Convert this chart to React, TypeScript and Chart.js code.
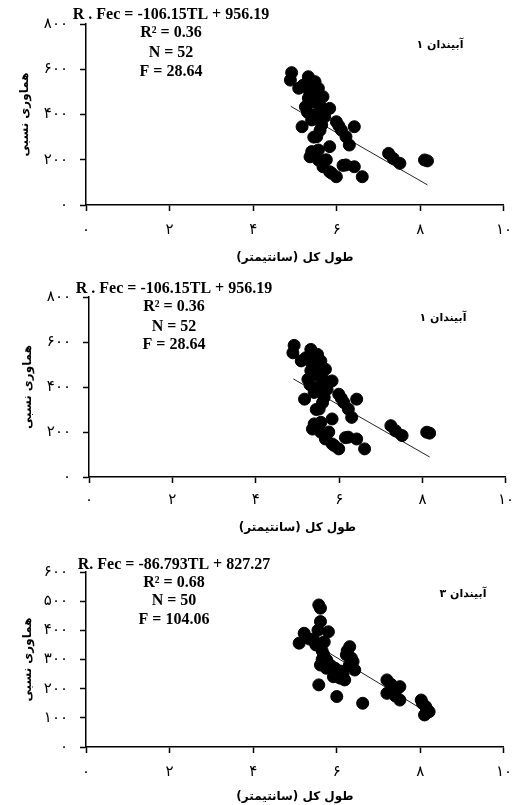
import React, { useEffect, useRef } from "react";
import { Chart, registerables } from "chart.js";

Chart.register(...registerables);

// ---------- data ----------
const xTickValues = [0, 2, 4, 6, 8, 10];
const yTickValues1 = [0, 200, 400, 600, 800];
const yTickValues3 = [0, 100, 200, 300, 400, 500, 600];

// Panel 1 & 2 (same data): total length (cm) vs relative fecundity
const tl1 = [
  4.92, 4.89, 5.09, 5.32, 5.48, 5.56, 5.40, 5.32, 5.25, 5.52,
  5.67, 5.83, 5.60, 5.70, 5.45, 5.17, 5.40, 5.52, 5.64, 5.71,
  5.99, 6.11, 6.42, 6.22, 6.30, 5.83, 5.40, 5.36, 5.56, 5.67,
  5.83, 5.99, 6.22, 6.42, 6.61, 5.56, 7.24, 7.35, 7.51, 8.10,
  8.17, 5.30, 5.50, 5.60, 5.45, 6.05, 5.75, 5.48, 6.15, 5.88,
  5.35, 5.20,
];
const fec1 = [
  585, 552, 516, 567, 545, 516, 540, 472, 434, 472,
  479, 427, 440, 420, 455, 346, 376, 302, 354, 390,
  368, 331, 346, 302, 265, 258, 236, 213, 199, 169,
  147, 125, 177, 169, 125, 243, 228, 206, 184, 199,
  195, 410, 400, 330, 300, 350, 200, 222, 175, 140,
  500, 530,
];

// Panel 3
const tl3 = [
  5.57, 5.61, 5.61, 5.22, 5.10, 5.80, 5.45, 5.61, 5.69, 5.61,
  5.76, 6.31, 6.23, 6.39, 6.43, 5.96, 6.08, 6.19, 5.92, 5.57,
  6.00, 6.62, 7.20, 7.20, 7.51, 7.51, 7.45, 8.02, 8.13, 8.21,
  8.10, 8.05, 5.35, 5.65, 5.70, 5.55, 6.25, 6.35, 6.10, 6.30,
  5.85, 5.75, 6.00, 7.35, 7.40, 8.15, 5.65, 6.15, 5.50, 7.30,
];
const fec3 = [
  487, 476, 430, 390, 356, 395, 367, 344, 316, 281,
  298, 344, 316, 293, 264, 270, 236, 230, 241, 213,
  173, 150, 230, 184, 207, 161, 200, 161, 138, 121,
  110, 150, 370, 330, 360, 400, 330, 305, 260, 280,
  280, 270, 255, 195, 175, 130, 300, 250, 350, 215,
];

// Regression fits printed on the charts
const slope1 = -106.15;
const intercept1 = 956.19;
const trendRange1 = [4.9, 8.17];
const stats1 = ["R . Fec = -106.15TL + 956.19", "R² = 0.36", "N = 52", "F = 28.64"];

const slope3 = -86.793;
const intercept3 = 827.27;
const trendRange3 = [5.1, 8.25];
const stats3 = ["R. Fec = -86.793TL + 827.27", "R² = 0.68", "N = 50", "F = 104.06"];

const station1 = "آبیندان ۱";
const station3 = "آبیندان ۳";

const xTitle = "طول کل (سانتیمتر)";
const yTitle = "هماوری نسبی";

// ---------- helpers ----------
const PERSIAN = "۰۱۲۳۴۵۶۷۸۹";
const toPersian = (v: number | string) =>
  String(v).replace(/\d/g, (d) => PERSIAN[Number(d)]);

type PanelProps = {
  top: number;
  height: number;
  area: { left: number; right: number; top: number; bottom: number };
  tl: number[];
  fec: number[];
  slope: number;
  intercept: number;
  trendRange: number[];
  yMax: number;
  yTicks: number[];
  stats: string[];
  statsDx: number;
  statsDy: number[];
  station: string;
  stationDx: number;
  stationDy: number;
  xTickPad: number;
  xTitlePad: number;
  yTitlePad: number;
};

function Panel(p: PanelProps) {
  const ref = useRef<HTMLCanvasElement | null>(null);

  useEffect(() => {
    if (!ref.current) return;
    const points = p.tl.map((x, i) => ({ x, y: p.fec[i] }));
    const trend = p.trendRange.map((x) => ({ x, y: p.slope * x + p.intercept }));

    const annot = {
      id: "annot",
      afterDraw(chart: any) {
        const { ctx, chartArea } = chart;
        ctx.save();
        ctx.fillStyle = "#000";
        ctx.textBaseline = "middle";
        ctx.textAlign = "center";
        ctx.font = 'bold 16px "Liberation Serif"';
        p.stats.forEach((t, i) => {
          ctx.fillText(t, chartArea.left + p.statsDx, chartArea.top + p.statsDy[i]);
        });
        ctx.font = 'bold 11px "DejaVu Sans"';
        ctx.direction = "rtl";
        ctx.textAlign = "center";
        ctx.fillText(p.station, chartArea.left + p.stationDx, chartArea.top + p.stationDy);
        ctx.restore();
      },
    };

    const chart = new Chart(ref.current, {
      type: "scatter",
      data: {
        datasets: [
          {
            type: "scatter",
            data: points,
            backgroundColor: "#000",
            borderColor: "#000",
            pointRadius: 6,
            pointHoverRadius: 6,
          },
          {
            type: "line",
            data: trend,
            borderColor: "#222",
            borderWidth: 1,
            pointRadius: 0,
            fill: false,
          },
        ],
      },
      options: {
        responsive: false,
        animation: false,
        layout: {
          padding: { top: p.area.top, right: 522 - p.area.right, left: 0, bottom: 0 },
        },
        plugins: {
          legend: { display: false },
          tooltip: { enabled: false },
        },
        scales: {
          x: {
            type: "linear",
            min: 0,
            max: 10,
            afterBuildTicks: (s: any) => {
              s.ticks = xTickValues.map((v) => ({ value: v }));
            },
            afterFit: (s: any) => {
              s.height = p.height - p.area.bottom;
            },
            ticks: {
              color: "#000",
              font: { family: "DejaVu Sans", size: 15 },
              padding: p.xTickPad,
              callback: (v: any) => toPersian(v),
            },
            grid: {
              display: true,
              drawOnChartArea: false,
              drawTicks: true,
              tickLength: 6,
              tickColor: "#000",
              tickWidth: 1.5,
            },
            border: { display: true, color: "#000", width: 1.5 },
            title: {
              display: true,
              text: "\u202B" + xTitle + "\u202C",
              color: "#000",
              font: { family: "DejaVu Sans", size: 12, weight: "bold" },
              padding: { top: 0, bottom: p.xTitlePad },
            },
          },
          y: {
            type: "linear",
            min: 0,
            max: p.yMax,
            afterBuildTicks: (s: any) => {
              s.ticks = p.yTicks.map((v) => ({ value: v }));
            },
            afterFit: (s: any) => {
              s.width = p.area.left;
            },
            ticks: {
              color: "#000",
              font: { family: "DejaVu Sans", size: 15 },
              padding: 12,
              callback: (v: any) => toPersian(v),
            },
            grid: {
              display: true,
              drawOnChartArea: false,
              drawTicks: true,
              tickLength: 6,
              tickColor: "#000",
              tickWidth: 1.5,
            },
            border: { display: true, color: "#000", width: 1.5 },
            title: {
              display: true,
              text: yTitle,
              color: "#000",
              font: { family: "DejaVu Sans", size: 12, weight: "bold" },
              padding: { top: p.yTitlePad, bottom: 0 },
            },
          },
        },
      } as any,
      plugins: [annot],
    });
    return () => chart.destroy();
  }, []);

  return (
    <canvas
      ref={ref}
      width={522}
      height={p.height}
      style={{ position: "absolute", left: 0, top: p.top, width: 522, height: p.height }}
    />
  );
}

export default function App() {
  return (
    <div style={{ position: "absolute", left: 0, top: 0, width: 522, height: 805, background: "#fff" }}>
      <Panel
        top={0}
        height={270}
        area={{ left: 86, right: 513, top: 24, bottom: 205 }}
        tl={tl1}
        fec={fec1}
        slope={slope1}
        intercept={intercept1}
        trendRange={trendRange1}
        yMax={800}
        yTicks={yTickValues1}
        stats={stats1}
        statsDx={85}
        statsDy={[-9, 9, 29, 48]}
        station={station1}
        stationDx={354}
        stationDy={21}
        xTickPad={10}
        xTitlePad={5}
        yTitlePad={18}
      />
      <Panel
        top={270}
        height={270}
        area={{ left: 89, right: 513, top: 27, bottom: 207 }}
        tl={tl1}
        fec={fec1}
        slope={slope1}
        intercept={intercept1}
        trendRange={trendRange1}
        yMax={800}
        yTicks={yTickValues1}
        stats={stats1}
        statsDx={85}
        statsDy={[-8, 10, 30, 48]}
        station={station1}
        stationDx={354}
        stationDy={21}
        xTickPad={8}
        xTitlePad={5}
        yTitlePad={21}
      />
      <Panel
        top={540}
        height={265}
        area={{ left: 86, right: 515, top: 32, bottom: 207 }}
        tl={tl3}
        fec={fec3}
        slope={slope3}
        intercept={intercept3}
        trendRange={trendRange3}
        yMax={600}
        yTicks={yTickValues3}
        stats={stats3}
        statsDx={88}
        statsDy={[-7, 11, 29, 48]}
        station={station3}
        stationDx={377}
        stationDy={22}
        xTickPad={10}
        xTitlePad={1}
        yTitlePad={21}
      />
    </div>
  );
}
